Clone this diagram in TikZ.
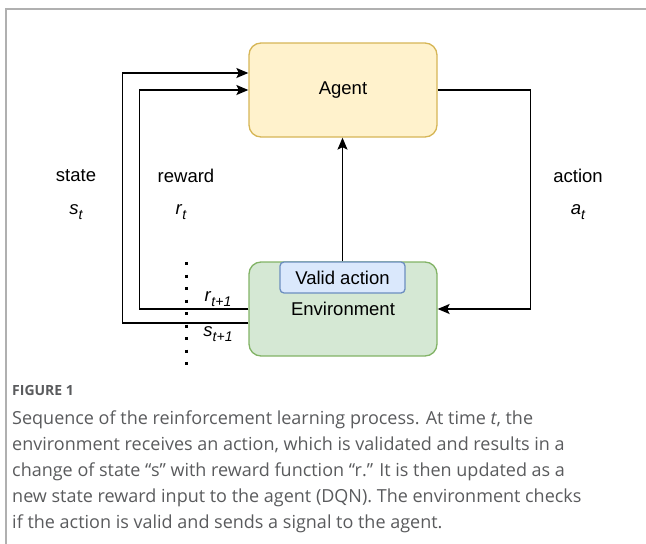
\documentclass[tikz,border=0pt]{standalone}
\usepackage{fontspec}
\setmainfont{Liberation Sans}
\newfontfamily\captionfont{Open Sans}
\usetikzlibrary{arrows.meta}
\definecolor{agentfill}{HTML}{FFF2CC}
\definecolor{agentline}{HTML}{D6B656}
\definecolor{envfill}{HTML}{D5E8D4}
\definecolor{envline}{HTML}{82B366}
\definecolor{validfill}{HTML}{DAE8FC}
\definecolor{validline}{HTML}{6C8EBF}
\definecolor{framegray}{HTML}{B0B0B0}
\definecolor{captext}{HTML}{5A5B5D}
\tikzset{
  block/.style={rounded corners=12pt, line width=1.3pt, minimum width=188pt, minimum height=94pt, inner sep=0pt},
  flow/.style={draw=black, line width=1.5pt, -{Stealth[length=12pt,width=10pt,inset=2.5pt]}},
  lab/.style={font=\fontsize{18.5}{20}\selectfont},
}
\newcommand{\varsub}[2]{\textit{#1}\raisebox{-0.45ex}{\fontsize{14}{14}\selectfont\itshape #2}}

\begin{document}
\begin{tikzpicture}[x=1pt,y=-1pt]
\useasboundingbox (0,0) rectangle (646,544);
% frame of the figure
\draw[framegray, line width=1.5pt] (6,544) -- (6,9) -- (646,9);

% agent and environment
\node[block, fill=agentfill, draw=agentline, lab] (agent) at (343,90) {\raisebox{-2pt}{Agent}};
\node[block, fill=envfill, draw=envline, lab] (env) at (343,309) {Environment};
\node[draw=validline, fill=validfill, rounded corners=4pt, line width=1.3pt, minimum width=125pt, minimum height=31pt, inner sep=0pt, lab] (valid) at (342.5,277.5) {Valid action};

% connectors
\draw[flow] (valid.north) -- (valid.north |- agent.south);
\draw[flow] (agent.east) -- ++(93,0) |- (env.east);
\draw[flow] ([yshift=-14pt]env.west) -- ++(-126,0) |- ([yshift=17pt]agent.west);
\draw[flow] (env.west) -- ++(-109,0) |- (agent.west);

% time separator
\draw[line width=3pt, dash pattern=on 3pt off 9.5pt] (186,262) -- (186,368);

% labels
\node[lab] (statelab) at (76,176) {state};
\node[lab] (st) at (76,212) {\varsub{s}{t}};
\node[lab] (rewardlab) at (186,176) {reward};
\node[lab] (rt) at (181,212) {\varsub{r}{t}};
\node[lab] (actionlab) at (578,176) {action};
\node[lab] (at) at (578,212) {\varsub{a}{t}};
\node[lab] (rnext) at (218,299) {\varsub{r}{t+1}};
\node[lab] (snext) at (218,334) {\varsub{s}{t+1}};

% caption
\node[anchor=base west, inner sep=0pt, text=captext, font=\captionfont\bfseries\fontsize{14}{16}\selectfont] (fig) at (12,395) {FIGURE 1};
\node[anchor=north west, align=left, inner sep=0pt, text=captext, font=\captionfont\fontsize{18}{25.8}\selectfont] (cap) at (12,411) {Sequence of the reinforcement learning process. At time \textit{t}, the\\
environment receives an action, which is validated and results in a\\
change of state “s” with reward function “r.” It is then updated as a\\
new state reward input to the agent (DQN). The environment checks\\
if the action is valid and sends a signal to the agent.};
\end{tikzpicture}
\end{document}
